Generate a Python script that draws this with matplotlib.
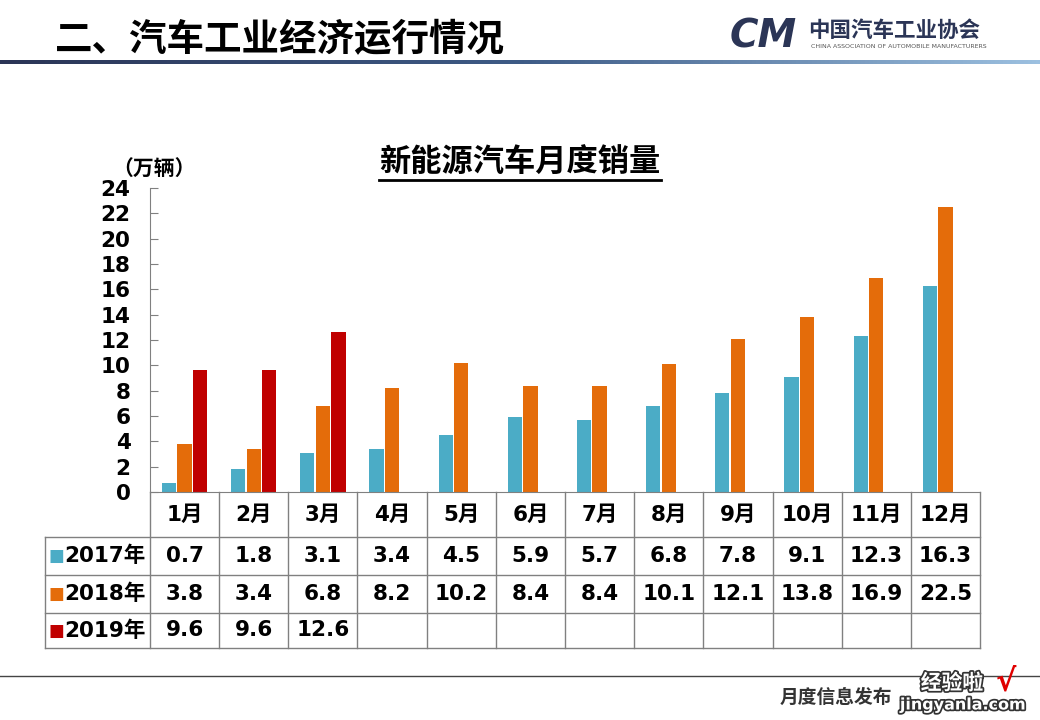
import numpy as np
import matplotlib
matplotlib.use("Agg")
import matplotlib.pyplot as plt
import matplotlib.patheffects as pe
import matplotlib.transforms as mtransforms
from matplotlib.colors import LinearSegmentedColormap

plt.rcParams['font.family'] = ['Noto Sans CJK SC', 'DejaVu Sans']
NUM_FONT = ['DejaVu Sans', 'Noto Sans CJK SC']   # heavy digits, CJK fallback

# ---- data ----
months = ['1月', '2月', '3月', '4月', '5月', '6月', '7月', '8月', '9月', '10月', '11月', '12月']
series_names = ['2017年', '2018年', '2019年']
sales_2017 = [0.7, 1.8, 3.1, 3.4, 4.5, 5.9, 5.7, 6.8, 7.8, 9.1, 12.3, 16.3]
sales_2018 = [3.8, 3.4, 6.8, 8.2, 10.2, 8.4, 8.4, 10.1, 12.1, 13.8, 16.9, 22.5]
sales_2019 = [9.6, 9.6, 12.6]
colors = ['#4BACC6', '#E46C0A', '#C00000']
y_ticks = list(range(0, 25, 2))

W, H = 1040, 720
fig = plt.figure(figsize=(W / 100, H / 100), dpi=100)

# ---- header ----
fig.text(55 / W, 1 - 40 / H, '二、汽车工业经济运行情况', fontsize=27, fontweight='bold',
         va='center', ha='left', color='black')
# gradient rule under the header
gax = fig.add_axes([0, 1 - 64 / H, 1, 4 / H])
cmap = LinearSegmentedColormap.from_list('hdr', ['#2B3556', '#3E5B86', '#9CC0E0'])
gax.imshow(np.linspace(0, 1, 256)[None, :], aspect='auto', cmap=cmap)
gax.axis('off')

# logo
fig.text(730 / W, 1 - 37 / H, 'CM', fontsize=28, fontweight='bold', style='italic',
         color='#2B3556', va='center', ha='left', family='DejaVu Sans')
fig.text(808 / W, 1 - 30 / H, '中国汽车工业协会', fontsize=15.5, fontweight='bold',
         color='#2B3556', va='center', ha='left')
fig.text(811 / W, 1 - 46 / H, 'CHINA ASSOCIATION OF AUTOMOBILE MANUFACTURERS', fontsize=4.5,
         color='#555555', va='center', ha='left', family='DejaVu Sans')

# ---- chart ----
ax_left, ax_right, ax_top, ax_bot = 150, 980, 188, 492
ax = fig.add_axes([ax_left / W, 1 - ax_bot / H, (ax_right - ax_left) / W, (ax_bot - ax_top) / H])

x = np.arange(len(months))
bw, off = 0.205, 0.225
all_series = [sales_2017, sales_2018, sales_2019]
for i, vals in enumerate(all_series):
    ax.bar(x[:len(vals)] + (i - 1) * off, vals, width=bw, color=colors[i], zorder=2)

ax.set_xlim(-0.5, len(months) - 0.5)
ax.set_ylim(0, 24)
ax.set_yticks(y_ticks)
ax.set_yticklabels([str(t) for t in y_ticks], fontsize=15.5, fontweight='bold',
                   family='DejaVu Sans')
ax.tick_params(axis='y', direction='in', length=6, color='#808080', pad=14)
ax.set_xticks([])
for s in ['top', 'right']:
    ax.spines[s].set_visible(False)
for s in ['left', 'bottom']:
    ax.spines[s].set_color('#808080')

fig.text(154 / W, 1 - 169 / H, '（万辆）', fontsize=15, fontweight='bold', ha='center', va='center')

# chart title with underline
title = fig.text(520 / W, 1 - 163 / H, '新能源汽车月度销量', fontsize=22.5, fontweight='bold',
                 ha='center', va='center')
fig.canvas.draw()
bb = title.get_window_extent().transformed(fig.transFigure.inverted())
fig.add_artist(plt.Line2D([bb.x0, bb.x1], [bb.y0 - 0.002, bb.y0 - 0.002],
                          color='black', lw=2, transform=fig.transFigure))

# ---- data table under the axis (x in data units, y in axes fraction) ----
trans = mtransforms.blended_transform_factory(ax.transData, ax.transAxes)
axh = ax_bot - ax_top
col_px = (ax_right - ax_left) / len(months)
lab_left = -0.5 - 105 / col_px
row_edges = [-(p - ax_bot) / axh for p in [492, 537, 575, 613, 648]]
grid_kw = dict(color='#808080', lw=1, transform=trans, clip_on=False)

for k in range(len(months) + 1):
    ax.plot([k - 0.5, k - 0.5], [row_edges[0], row_edges[-1]], **grid_kw)
ax.plot([lab_left, lab_left], [row_edges[1], row_edges[-1]], **grid_kw)
for y in row_edges[1:]:
    ax.plot([lab_left, len(months) - 0.5], [y, y], **grid_kw)

txt_kw = dict(fontsize=15.5, fontweight='bold', family=NUM_FONT, ha='center', va='center',
              transform=trans, clip_on=False)
hdr_y = (row_edges[0] + row_edges[1]) / 2
for i, m in enumerate(months):
    ax.text(x[i], hdr_y, m, **txt_kw)

for r, (name, vals) in enumerate(zip(series_names, all_series)):
    yc = (row_edges[r + 1] + row_edges[r + 2]) / 2
    for i, v in enumerate(vals):
        ax.text(x[i], yc, f'{v:.1f}', **txt_kw)
    ax.text(-0.5 - 4 / col_px, yc, name, **{**txt_kw, 'ha': 'right'})
    ax.text(lab_left + 4 / col_px, yc, '■', color=colors[r], fontsize=12, family='DejaVu Sans',
            ha='left', va='center', transform=trans, clip_on=False)

# ---- footer ----
fig.add_artist(plt.Line2D([0, 1], [1 - 676 / H, 1 - 676 / H], color='#444444', lw=1,
                          transform=fig.transFigure))
fig.text(836 / W, 1 - 697 / H, '月度信息发布', fontsize=13.5, fontweight='bold', color='#333333',
         ha='center', va='center')
# watermark
stroke = [pe.withStroke(linewidth=2.5, foreground='#333333')]
fig.text(952 / W, 1 - 683 / H, '经验啦', fontsize=15, fontweight='bold', color='white',
         ha='center', va='center', path_effects=stroke)
fig.text(1006 / W, 1 - 682 / H, '√', fontsize=22, fontweight='bold', color='#E00000',
         ha='center', va='center', family='DejaVu Sans')
fig.text(963 / W, 1 - 705 / H, 'jingyanla.com', fontsize=11.5, fontweight='bold', color='white',
         ha='center', va='center', family='DejaVu Sans', path_effects=stroke)

fig.savefig('out.png', dpi=100)
